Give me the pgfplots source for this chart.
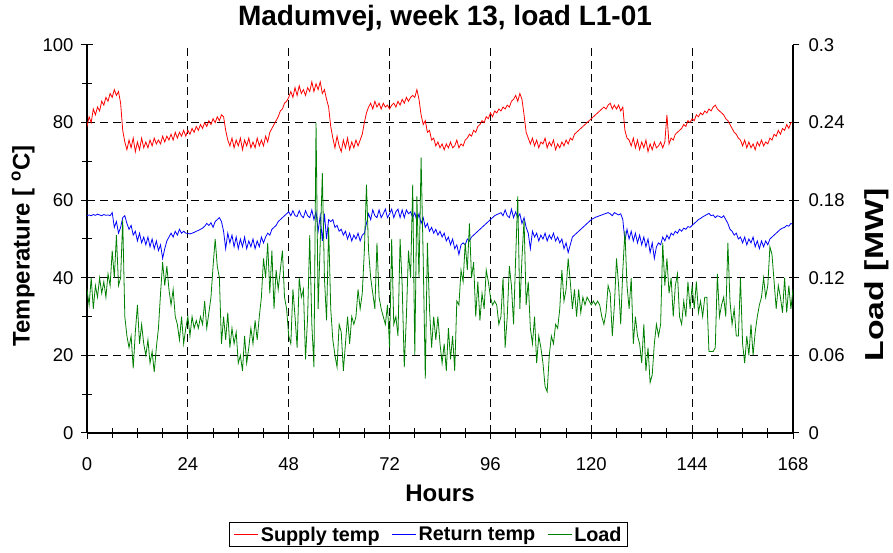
\documentclass[border=0pt]{standalone}
\usepackage{fontspec}
\setmainfont{Liberation Sans}
\usepackage{graphicx}
\usepackage{pgfplots}
\usepackage{pgfplotstable}
\pgfplotsset{compat=1.18}

\pgfplotstableread{
h s r l
0 79.0 56.0 0.111
0.5 81.5 56.2 0.099
1 80.0 56.0 0.120
1.5 83.5 56.3 0.096
2 82.0 56.1 0.114
2.5 84.0 56.4 0.105
3 83.0 56.2 0.120
3.5 85.5 56.0 0.108
4 84.5 56.3 0.117
4.5 86.5 56.1 0.105
5 85.5 56.2 0.123
5.5 87.5 56.0 0.114
6 86.5 56.8 0.141
6.5 88.5 53.0 0.120
7 87.0 54.5 0.153
7.5 88.0 51.5 0.114
8 85.0 53.0 0.120
8.5 78.0 55.5 0.165
9 75.0 56.0 0.090
9.5 73.0 54.0 0.075
10 75.5 52.5 0.066
10.5 73.5 53.5 0.075
11 76.0 51.0 0.050
11.5 72.5 52.0 0.078
12 75.0 49.5 0.099
12.5 73.0 51.5 0.069
13 76.0 49.0 0.084
13.5 73.5 50.5 0.069
14 75.0 48.5 0.060
14.5 73.5 50.5 0.072
15 75.5 48.0 0.054
15.5 74.0 50.0 0.063
16 76.0 47.5 0.047
16.5 74.5 49.5 0.066
17 75.5 47.0 0.081
17.5 74.5 48.5 0.108
18 76.5 45.0 0.132
18.5 75.0 47.5 0.114
19 76.5 49.5 0.129
19.5 75.5 50.5 0.111
20 77.0 51.5 0.099
20.5 75.5 50.5 0.111
21 77.5 52.0 0.090
21.5 76.0 51.0 0.084
22 77.5 52.5 0.072
22.5 76.5 51.5 0.090
23 78.0 52.0 0.069
23.5 76.5 51.5 0.081
24 78.0 51.5 0.090
24.5 77.0 51.3 0.075
25 78.5 51.5 0.090
25.5 77.5 51.7 0.081
26 79.0 52.0 0.087
26.5 78.0 52.2 0.081
27 79.5 52.5 0.090
27.5 78.5 52.8 0.084
28 80.0 53.3 0.102
28.5 79.0 54.0 0.081
29 80.5 53.5 0.093
29.5 79.5 54.2 0.105
30 81.0 53.0 0.129
30.5 80.0 54.5 0.150
31 81.5 55.0 0.129
31.5 80.5 55.5 0.120
32 82.0 54.5 0.069
32.5 81.5 52.0 0.090
33 78.0 47.5 0.072
33.5 75.5 51.5 0.093
34 74.0 49.0 0.066
34.5 76.0 51.0 0.081
35 73.5 48.0 0.069
35.5 75.5 50.5 0.078
36 74.0 47.5 0.054
36.5 76.0 50.0 0.060
37 73.0 48.0 0.048
37.5 75.5 50.5 0.075
38 74.0 47.5 0.054
38.5 76.0 49.5 0.066
39 73.5 48.0 0.081
39.5 75.0 50.0 0.069
40 73.5 47.5 0.087
40.5 76.0 49.5 0.072
41 74.0 48.0 0.090
41.5 75.5 50.5 0.105
42 74.0 49.0 0.135
42.5 76.5 50.5 0.120
43 75.0 51.5 0.147
43.5 77.5 51.0 0.108
44 78.5 52.5 0.141
44.5 79.5 53.0 0.096
45 80.5 53.5 0.126
45.5 81.5 54.5 0.111
46 83.0 55.0 0.126
46.5 83.5 55.5 0.141
47 85.0 56.0 0.105
47.5 85.5 56.5 0.096
48 86.5 57.0 0.075
48.5 88.0 56.0 0.069
49 86.5 57.3 0.111
49.5 89.0 56.0 0.090
50 87.0 55.8 0.066
50.5 89.5 57.3 0.120
51 87.5 56.0 0.105
51.5 88.5 55.5 0.111
52 87.0 57.3 0.057
52.5 89.0 56.0 0.090
53 88.0 55.5 0.153
53.5 90.5 57.5 0.084
54 88.0 55.0 0.051
54.5 90.0 57.0 0.240
55 88.5 52.0 0.096
55.5 90.5 56.0 0.147
56 87.5 49.5 0.201
56.5 88.5 56.5 0.120
57 86.0 50.0 0.087
57.5 84.0 55.0 0.159
58 79.0 54.5 0.096
58.5 76.0 55.0 0.072
59 73.5 53.0 0.060
59.5 76.5 53.5 0.051
60 74.0 52.0 0.084
60.5 72.5 52.5 0.078
61 75.5 51.0 0.048
61.5 73.5 52.0 0.069
62 76.0 50.0 0.090
62.5 73.0 51.5 0.069
63 75.0 49.5 0.090
63.5 73.5 51.0 0.084
64 75.5 50.0 0.090
64.5 74.0 51.5 0.111
65 75.5 49.5 0.096
65.5 77.0 51.0 0.108
66 80.0 51.5 0.141
66.5 82.5 54.0 0.192
67 84.0 56.5 0.141
67.5 85.0 55.0 0.120
68 83.5 57.5 0.108
68.5 85.5 56.0 0.096
69 84.0 55.5 0.147
69.5 85.0 57.5 0.105
70 83.5 55.5 0.096
70.5 85.0 56.5 0.090
71 84.0 57.7 0.084
71.5 84.5 55.5 0.099
72 83.5 56.5 0.066
72.5 84.5 57.7 0.150
73 85.0 55.5 0.084
73.5 84.0 57.0 0.090
74 85.5 57.7 0.075
74.5 84.5 55.5 0.150
75 86.0 57.5 0.114
75.5 85.0 55.5 0.051
76 86.5 57.5 0.090
76.5 85.5 56.5 0.141
77 86.5 57.0 0.120
77.5 87.0 55.5 0.192
78 86.5 56.8 0.060
78.5 88.5 54.5 0.183
79 86.0 56.5 0.120
79.5 82.0 54.0 0.213
80 79.5 55.5 0.135
80.5 80.5 53.0 0.042
81 77.5 54.0 0.147
81.5 78.0 52.0 0.096
82 75.5 53.0 0.066
82.5 76.0 51.5 0.090
83 74.0 52.5 0.072
83.5 75.0 51.0 0.090
84 73.5 52.0 0.069
84.5 74.5 50.5 0.054
85 73.0 51.5 0.069
85.5 74.5 49.5 0.048
86 73.5 50.5 0.081
86.5 75.0 48.5 0.057
87 73.5 50.0 0.075
87.5 74.0 47.5 0.048
88 75.5 48.5 0.102
88.5 73.5 46.0 0.099
89 74.5 48.5 0.126
89.5 74.0 49.0 0.117
90 75.5 48.5 0.147
90.5 76.0 50.0 0.126
91 77.0 49.5 0.162
91.5 76.5 50.5 0.120
92 78.0 51.0 0.132
92.5 77.5 51.5 0.090
93 79.0 52.0 0.117
93.5 79.5 52.5 0.087
94 80.5 53.0 0.108
94.5 80.0 53.5 0.096
95 81.5 54.0 0.126
95.5 81.0 54.5 0.117
96 82.5 55.0 0.105
96.5 81.5 55.5 0.099
97 83.0 56.0 0.102
97.5 82.5 56.3 0.099
98 83.5 56.5 0.084
98.5 83.0 56.8 0.090
99 84.0 56.0 0.120
99.5 83.5 57.5 0.066
100 84.5 56.0 0.090
100.5 84.0 55.5 0.129
101 85.5 57.7 0.114
101.5 86.0 55.5 0.084
102 87.0 57.0 0.135
102.5 85.5 55.5 0.183
103 87.5 56.5 0.096
103.5 86.0 54.0 0.135
104 82.0 55.5 0.165
104.5 77.5 53.0 0.099
105 76.0 51.5 0.117
105.5 74.5 47.5 0.081
106 76.0 52.0 0.069
106.5 74.0 50.5 0.090
107 75.5 51.5 0.054
107.5 73.5 49.5 0.075
108 75.0 51.0 0.066
108.5 74.5 50.0 0.054
109 76.0 51.5 0.036
109.5 73.5 49.5 0.032
110 75.0 51.0 0.060
110.5 74.0 50.0 0.075
111 75.5 51.5 0.069
111.5 73.0 49.5 0.084
112 74.5 50.5 0.081
112.5 73.5 49.0 0.096
113 75.0 50.0 0.126
113.5 74.0 47.5 0.102
114 75.5 49.0 0.111
114.5 74.5 46.5 0.135
115 76.0 48.5 0.117
115.5 75.5 50.5 0.096
116 77.0 51.0 0.111
116.5 77.5 51.5 0.090
117 78.0 52.0 0.111
117.5 78.5 52.5 0.093
118 79.0 53.0 0.105
118.5 79.5 53.5 0.099
119 80.0 54.0 0.105
119.5 80.5 54.5 0.102
120 81.0 55.0 0.099
120.5 81.5 55.3 0.102
121 82.0 55.6 0.099
121.5 82.5 55.8 0.102
122 83.0 56.0 0.099
122.5 83.5 56.2 0.090
123 84.0 56.4 0.084
123.5 83.5 56.6 0.093
124 84.5 56.8 0.114
124.5 85.0 56.5 0.108
125 83.5 56.0 0.075
125.5 84.5 56.8 0.099
126 83.5 56.5 0.135
126.5 84.5 56.2 0.114
127 83.0 56.5 0.084
127.5 84.0 55.0 0.126
128 78.0 49.5 0.156
128.5 76.0 52.5 0.114
129 75.5 50.0 0.096
129.5 74.0 52.0 0.120
130 76.0 49.5 0.069
130.5 73.5 51.5 0.090
131 75.5 49.0 0.075
131.5 73.0 51.0 0.069
132 75.0 48.5 0.054
132.5 73.5 50.5 0.084
133 75.5 48.0 0.048
133.5 72.5 50.0 0.066
134 74.5 46.5 0.039
134.5 73.0 49.0 0.045
135 75.0 45.0 0.069
135.5 73.5 48.0 0.084
136 74.0 49.0 0.075
136.5 75.0 48.5 0.084
137 73.5 50.5 0.147
137.5 75.0 49.5 0.114
138 82.0 51.0 0.135
138.5 74.5 50.0 0.108
139 76.0 51.5 0.120
139.5 75.5 51.0 0.090
140 77.0 52.0 0.114
140.5 77.5 51.5 0.123
141 78.0 52.5 0.090
141.5 78.5 52.0 0.084
142 79.5 52.8 0.102
142.5 79.0 52.5 0.090
143 80.5 53.2 0.117
143.5 80.0 53.0 0.096
144 81.0 53.5 0.114
144.5 80.5 54.0 0.096
145 82.0 54.5 0.117
145.5 81.5 55.0 0.093
146 82.5 55.3 0.102
146.5 82.0 55.7 0.090
147 83.0 56.0 0.105
147.5 82.5 56.3 0.105
148 83.5 56.6 0.063
148.5 83.0 56.0 0.063
149 84.0 56.2 0.063
149.5 84.5 55.5 0.066
150 83.5 56.0 0.123
150.5 83.0 55.8 0.090
151 82.5 55.5 0.099
151.5 82.0 56.0 0.105
152 81.0 55.0 0.090
152.5 80.5 54.0 0.147
153 79.5 52.5 0.102
153.5 78.5 52.0 0.084
154 77.5 51.0 0.096
154.5 77.0 51.5 0.075
155 76.0 50.0 0.075
155.5 75.5 50.5 0.120
156 74.0 49.0 0.069
156.5 75.5 50.5 0.054
157 73.5 48.5 0.075
157.5 75.0 50.0 0.060
158 73.5 49.0 0.084
158.5 74.5 50.5 0.060
159 73.0 48.0 0.078
159.5 75.0 49.5 0.090
160 74.0 47.5 0.099
160.5 75.5 49.5 0.105
161 74.0 48.0 0.120
161.5 75.0 49.5 0.105
162 74.5 48.5 0.114
162.5 76.0 50.0 0.144
163 75.5 50.5 0.138
163.5 77.0 51.0 0.117
164 76.5 51.5 0.096
164.5 78.0 52.0 0.114
165 77.0 52.5 0.105
165.5 78.5 52.8 0.093
166 78.0 53.0 0.120
166.5 79.5 53.5 0.093
167 78.5 53.3 0.114
167.5 80.0 54.0 0.096
168 80.0 53.8 0.111
}\data

\begin{document}
\begin{tikzpicture}[x=1pt,y=1pt]
\path[use as bounding box] (0,0) rectangle (893,553);
\begin{axis}[
  at={(87pt,120pt)}, anchor=south west,
  scale only axis, width=706pt, height=388pt,
  xmin=0, xmax=168, ymin=0, ymax=100,
  axis x line*=bottom, axis y line*=left,
  axis line style={line width=1.6pt,-},
  xtick={0,24,...,168}, minor x tick num=3,
  ytick={0,20,...,100}, minor y tick num=1,
  tick align=center, major tick length=12pt, minor tick length=10pt,
  tick style={black, line width=1pt},
  /pgf/number format/assume math mode=true,
  every tick label/.append style={font=\fontsize{18.5}{20}\selectfont},
  xticklabel style={yshift=-15pt},
  yticklabel style={xshift=-4pt},
  extra y ticks={20,40,60,80}, extra y tick labels={},
  extra y tick style={grid=major, major tick length=0pt},
  extra x ticks={24,48,...,144}, extra x tick labels={},
  extra x tick style={grid=major, major tick length=0pt},
  major grid style={black, line width=0.8pt, dash pattern=on 8pt off 5pt},
]
\addplot[red, line width=0.8pt] table[x=h, y=s] {\data};
\addplot[blue, line width=0.8pt] table[x=h, y=r] {\data};
\end{axis}
\begin{axis}[
  at={(87pt,120pt)}, anchor=south west,
  scale only axis, width=706pt, height=388pt,
  xmin=0, xmax=168, ymin=0, ymax=0.3,
  axis x line=none, axis y line*=right,
  axis line style={line width=1.6pt,-},
  ytick={0,0.06,0.12,0.18,0.24,0.3},
  yticklabels={0,0.06,0.12,0.18,0.24,0.3},
  tick align=outside, major tick length=6pt,
  tick style={black, line width=1pt},
  every tick label/.append style={font=\fontsize{18.5}{20}\selectfont},
  yticklabel style={xshift=6pt},
  legend columns=3,
  legend style={at={(0.484,-0.262)}, anchor=center, draw=black, line width=0.8pt,
    font=\bfseries\fontsize{19.8}{22}\selectfont, inner xsep=4pt, inner ysep=2pt,
    /tikz/every even column/.append style={column sep=10pt}},
  legend image code/.code={\draw[#1, line width=1pt] (0pt,0pt) -- (24pt,0pt);},
]
\addlegendimage{red}\addlegendentry{Supply temp}
\addlegendimage{blue}\addlegendentry{Return temp}
\addplot[green!50!black, line width=0.8pt] table[x=h, y=l] {\data};
\addlegendentry{Load}
\end{axis}
\node[rotate=90, font=\bfseries\fontsize{24}{24}\selectfont] at (23,307) {Temperature [ \textsuperscript{o}C]};
\node[rotate=90, font=\bfseries\fontsize{26}{26}\selectfont] at (877,278) {\scalebox{1.3}[1]{Load [MW]}};
\node[font=\bfseries\fontsize{24}{24}\selectfont] at (440,60) {Hours};
\node[font=\bfseries\fontsize{28}{28}\selectfont] at (445,535) {Madumvej, week 13, load L1-01};
\end{tikzpicture}
\end{document}
